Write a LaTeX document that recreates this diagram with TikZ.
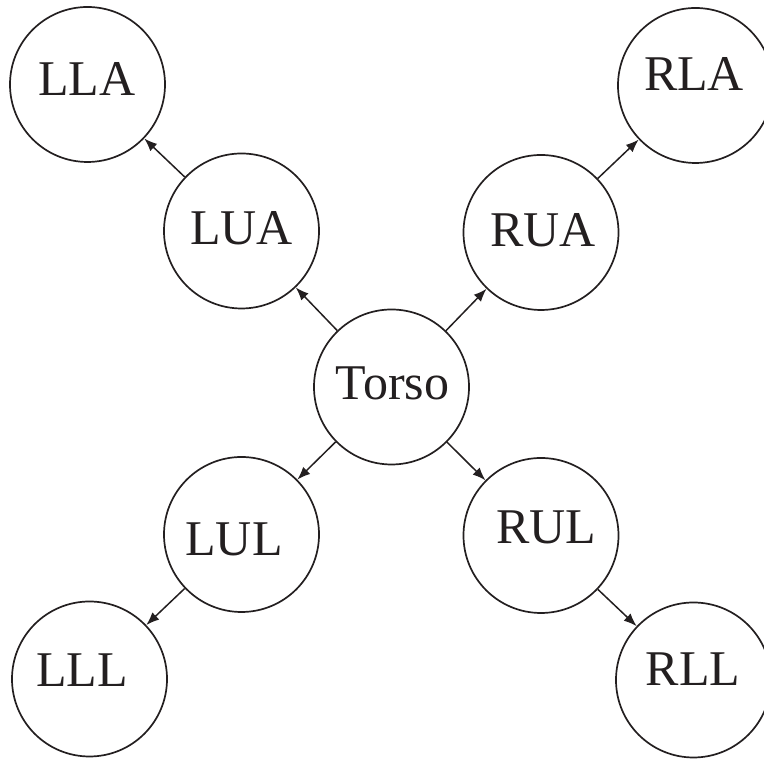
\documentclass[tikz,border=0pt]{standalone}
\usepackage{fontspec}
\setmainfont{Liberation Serif}
\usepackage{xcolor}
\usepackage{tikz}
\usetikzlibrary{arrows.meta,positioning}
\definecolor{cInk}{HTML}{231F20}
\tikzset{
  part/.style={circle, draw=cInk, line width=1.7pt, minimum size=155pt, inner sep=0pt},
  tag/.style={text=cInk, font=\fontsize{50}{50}\selectfont, inner sep=0pt},
  link/.style={-{Latex[length=13pt, width=10pt]}, line width=1.5pt, draw=cInk},
}

\begin{document}
\begin{tikzpicture}[x=1pt, y=1pt]
  \useasboundingbox (0,0) rectangle (764,759);
  \node[part, label={[tag, shift={(1,3.5)}]center:Torso}] (torso) at (391.5,372) {};
  \node[part, label={[tag, shift={(0,3)}]center:LUA}] (lua) at (241.5,528) {};
  \node[part, label={[tag, shift={(-0.5,5)}]center:LLA}] (lla) at (87.5,674.5) {};
  \node[part, label={[tag, shift={(2,2.5)}]center:RUA}] (rua) at (541,526.5) {};
  \node[part, label={[tag, shift={(-1.5,11.5)}]center:RLA}] (rla) at (695.5,673.5) {};
  \node[part, label={[tag, shift={(-7.5,-4.5)}]center:LUL}] (lul) at (241.5,224.5) {};
  \node[part, label={[tag, shift={(-7.5,8.5)}]center:LLL}] (lll) at (89.5,80) {};
  \node[part, label={[tag, shift={(5,8.5)}]center:RUL}] (rul) at (541,223.5) {};
  \node[part, label={[tag, shift={(-0.5,10.5)}]center:RLL}] (rll) at (693.5,79) {};
  \draw[link](torso)--(lua);\draw[link](lua)--(lla);
  \draw[link](torso)--(rua);\draw[link](rua)--(rla);
  \draw[link](torso)--(lul);\draw[link](lul)--(lll);
  \draw[link](torso)--(rul);\draw[link](rul)--(rll);
\end{tikzpicture}
\end{document}
